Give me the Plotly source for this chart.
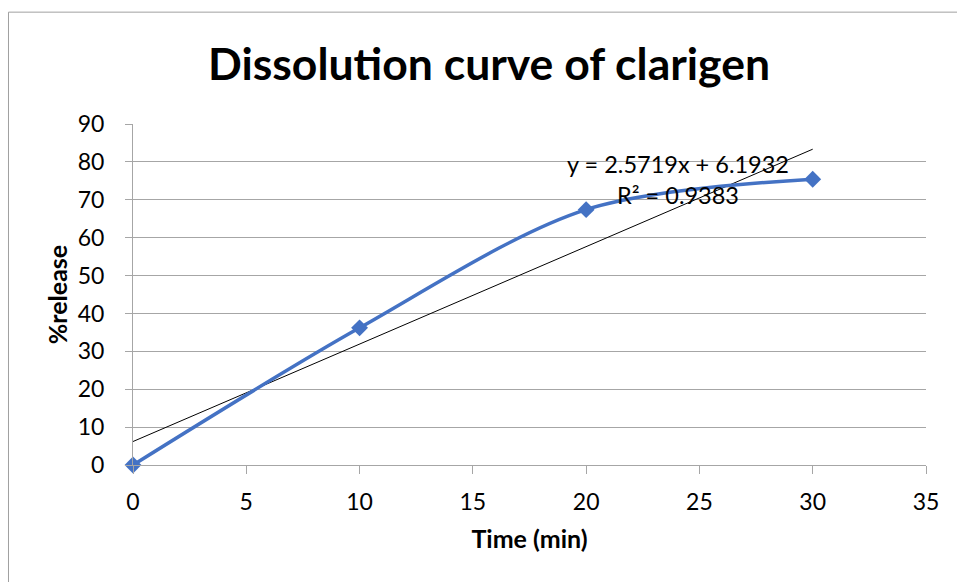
import plotly.graph_objects as go

time_min = [0, 10, 20, 30]
release = [0, 36.2, 67.4, 75.4]
slope = 2.5719
intercept = 6.1932
r2 = 0.9383
trend_x = [0, 30]
trend_y = [slope * x + intercept for x in trend_x]

FONT = "Lato"
GRAY = "#A6A6A6"

fig = go.Figure()
fig.add_trace(go.Scatter(x=trend_x, y=trend_y, mode="lines",
                         line=dict(color="black", width=1), hoverinfo="skip"))
fig.add_trace(go.Scatter(x=time_min, y=release, mode="lines+markers", cliponaxis=False,
                         line=dict(color="#4472C4", width=3.5, shape="spline", smoothing=0.9),
                         marker=dict(symbol="diamond", size=13, color="#4472C4")))

fig.add_annotation(x=24.05, y=75.3, xref="x", yref="y",
                   text=f"y = {slope}x + {intercept}<br>R² = {r2}", showarrow=False,
                   font=dict(family=FONT, size=23.5, color="black"), align="center")

fig.add_shape(type="rect", xref="paper", yref="paper",
              x0=-0.157, x1=1.05, y0=-0.4, y1=1.328,
              line=dict(color="#A0A0A0", width=1), fillcolor="rgba(0,0,0,0)", layer="below")

fig.update_layout(
    width=957, height=582,
    margin=dict(l=133, r=31, t=124, b=117),
    paper_bgcolor="white", plot_bgcolor="white",
    showlegend=False,
    font=dict(family=FONT, color="black"),
    title=dict(text="<b>Dissolution curve of clarigen</b>", x=0.511, xanchor="center",
               xref="container", y=0.89, yanchor="middle", yref="container",
               font=dict(family=FONT, size=44.5, color="black")),
    xaxis=dict(range=[0, 35], dtick=5, tick0=0, showgrid=False, zeroline=False,
               showline=True, linecolor=GRAY, linewidth=1,
               ticks="outside", ticklen=8, tickcolor=GRAY, ticklabelstandoff=8,
               tickfont=dict(family=FONT, size=23, color="black"),
               title=dict(text="<b>Time (min)</b>", font=dict(family=FONT, size=25, color="black"), standoff=16)),
    yaxis=dict(range=[0, 90], dtick=10, tick0=0, showgrid=True, gridcolor=GRAY, gridwidth=1,
               zeroline=False, showline=True, linecolor=GRAY, linewidth=1,
               ticks="outside", ticklen=7, tickcolor=GRAY, ticklabelstandoff=16,
               tickfont=dict(family=FONT, size=23, color="black"),
               title=dict(text="<b>%release</b>", font=dict(family=FONT, size=25, color="black"), standoff=2)),
)

fig.write_html("out.html")
